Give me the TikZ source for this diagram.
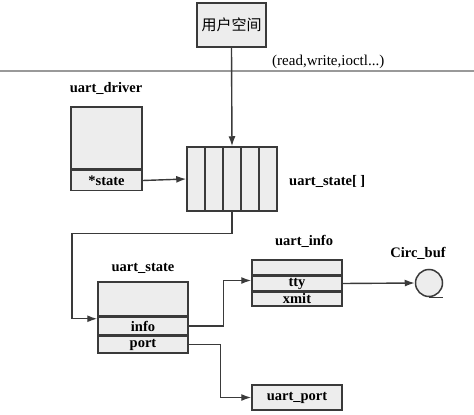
\documentclass[tikz,border=0pt]{standalone}
\usepackage{fontspec}
\setmainfont{Liberation Serif}
\newfontfamily\cjk{Noto Sans CJK SC}
\usetikzlibrary{arrows.meta,positioning,calc}
\definecolor{linegray}{HTML}{3A3A3A}
\definecolor{boxfill}{HTML}{EDEDED}
\tikzset{
  cell/.style={rectangle, draw=linegray, line width=1.5pt, fill=boxfill,
               inner sep=0pt, font=\fontsize{14.5}{16}\selectfont\bfseries},
  lbl/.style={inner sep=0pt, font=\fontsize{14.5}{16}\selectfont\bfseries},
  arr/.style={-{Latex[length=10pt,width=7pt]}, line width=1.4pt, draw=linegray},
}

\begin{document}
\begin{tikzpicture}[x=1pt,y=-1pt]
    \useasboundingbox (0,0) rectangle (474,415);
    % user space
    \node[cell, minimum width=69pt, minimum height=44pt, font=\cjk\fontsize{15}{16}\selectfont] (user) at (231.5,25) {用户空间};
    \draw[line width=2pt, draw=gray!80] (0,70.5) -- (474,70.5);
    \node[inner sep=0pt, font=\fontsize{15}{16}\selectfont, anchor=west] (calls) at (272,62) {(read,write,ioctl...)};
    % uart_driver
    \node[lbl] (drvname) at (106,88) {uart\_driver};
    \node[cell, minimum width=71pt, minimum height=62pt] (drv) at (106.5,138) {};
    \node[cell, minimum width=71pt, minimum height=20pt, below=0pt of drv] (drvstate) {*state};
    % uart_state[]
    \foreach \i in {1,...,5}
      \node[cell, minimum width=18pt, minimum height=64pt] (cell\i) at (178+18*\i,179) {};
    \node[lbl, anchor=west] (arrname) at (289,181) {uart\_state[ ]};
    % uart_state
    \node[lbl] (stname) at (143,268) {uart\_state};
    \node[cell, minimum width=90pt, minimum height=34pt] (st) at (143,299) {};
    \node[cell, minimum width=90pt, minimum height=17pt, below=0pt of st] (stinfo) {info};
    \node[cell, minimum width=90pt, minimum height=17pt, below=0pt of stinfo] (stport) {port};
    % uart_info
    \node[lbl] (infname) at (304,241) {uart\_info};
    \node[cell, minimum width=90pt, minimum height=15pt] (inf) at (297,267.5) {};
    \node[cell, minimum width=90pt, minimum height=14pt, below=0pt of inf] (inftty) {tty};
    \node[cell, minimum width=90pt, minimum height=14pt, below=0pt of inftty] (infxmit) {xmit};
    % Circ_buf
    \node[lbl] (cbufname) at (418,253) {Circ\_buf};
    \node[cell, circle, minimum size=27pt] (cbuf) at (429,283) {};
    \draw[line width=1.5pt, draw=linegray] (cbuf.south) -- ++(14,0);
    % uart_port
    \node[cell, minimum width=90pt, minimum height=25pt] (port) at (297,397.5) {uart\_port};
    % links
    \draw[arr] (user.south) -- (cell3.north);
    \draw[arr] (drvstate.east) -- (cell1.west);
    \draw[arr] (cell3.south) -- ++(0,22) -- ++(-160,0) |- ([yshift=-2pt]st.south west);
    \draw[arr] (stinfo.east) -- ++(35,0) |- ([yshift=3pt]inftty.west);
    \draw[arr] (inftty.east) -- (cbuf.west);
    \draw[arr] (stport.east) -- ++(32,0) |- (port.west);
  \end{tikzpicture}
\end{document}
